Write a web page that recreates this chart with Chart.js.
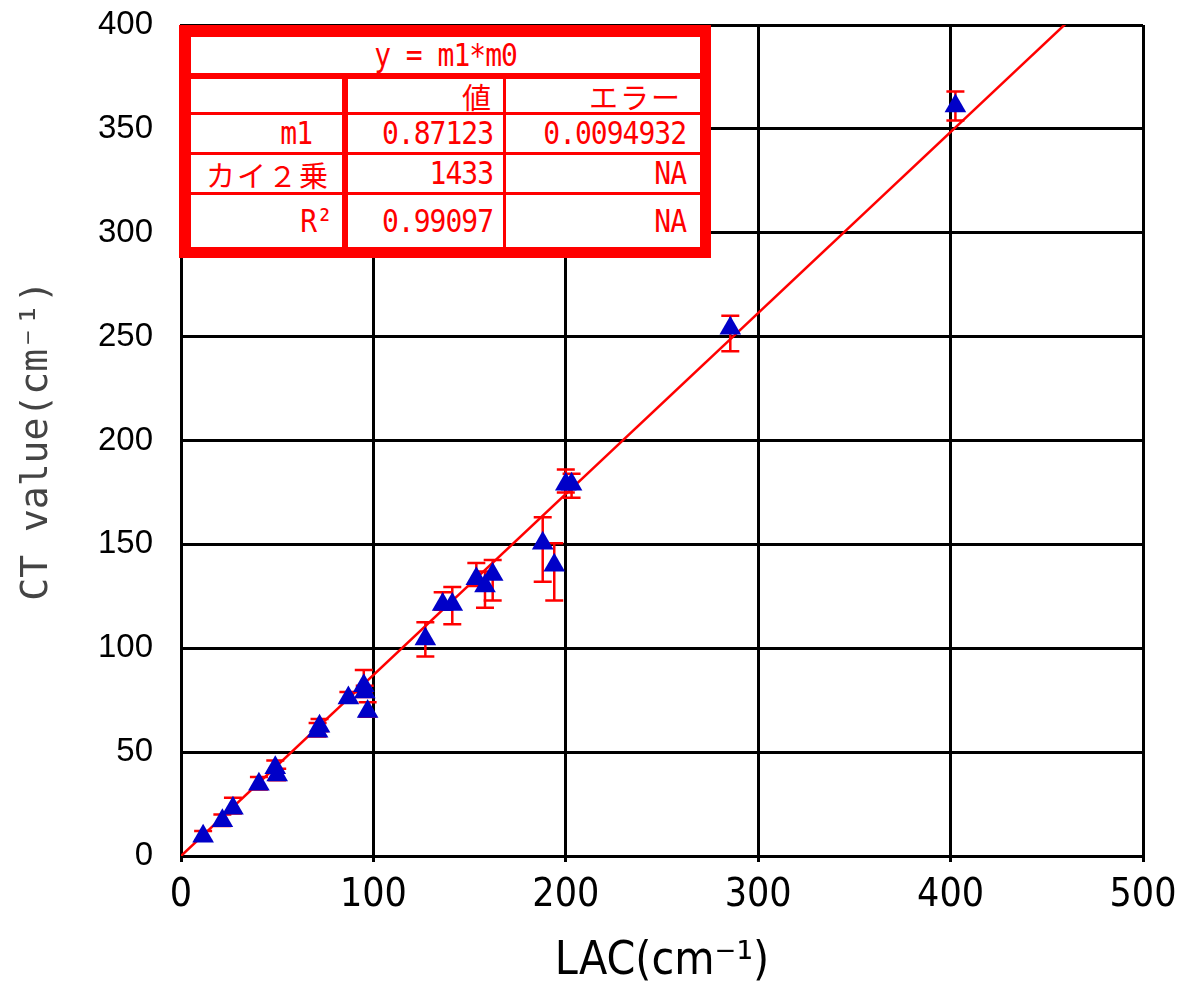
<!DOCTYPE html>
<html>
<head>
<meta charset="utf-8">
<script src="https://cdn.jsdelivr.net/npm/chart.js@4.4.1/dist/chart.umd.min.js"></script>
<style>
    body { margin: 0; background: #fff; }
    #wrap { position: relative; width: 1187px; height: 990px; }
    #fitTable { position: absolute; left: 179px; top: 25px; width: 532px; height: 233px; background: #ff0000; }
    #fitTable div { position: absolute; background: #fff; color: #ff0000; box-sizing: border-box;
        font-family: "DejaVu Sans Mono", "Liberation Mono", monospace; font-size: 28px; letter-spacing: -1px;
        display: flex; align-items: center; justify-content: flex-end; padding-right: 10px; white-space: nowrap; }
    #fitTable div span { display: inline-block; transform: scaleY(1.15); }
    #fitTable .jp { font-family: "Noto Sans CJK JP", sans-serif; font-size: 29px; letter-spacing: 2px; }
    #fitTable .jp span { transform: none; }
</style>
</head>
<body>
<div id="wrap">
    <canvas id="scatterChart"></canvas>
    <div id="fitTable"></div>
</div>
<script>
// measured points: LAC (cm-1) against CT value (cm-1), with error bar ends
const lacValues = [11.5, 21.5, 27, 40.5, 49, 50, 71, 72, 87, 95, 95.5, 97, 127, 136, 141, 153.5, 158, 162, 188, 194, 200, 203, 285.5, 402.5];
const ctValues  = [9.5, 17, 23, 34.5, 42.5, 39, 60, 62.5, 76, 82, 79, 69.5, 104.5, 121, 121, 133.5, 130, 135.5, 150.5, 140, 179, 179, 254, 361];
const errLow    = [7.5, 14.5, 20.5, 32, 40, 36.5, 57.5, 60, 74, 79, 76.5, 67, 96, 118.5, 111.5, 130, 119.5, 123, 132, 123, 175, 172.5, 243, 354];
const errHigh   = [12, 20, 28, 38, 46, 42, 64, 66, 79, 89.5, 82, 74, 112.5, 127, 129.5, 141, 137, 142.5, 163, 150.5, 186, 184, 260, 368];

const xTicks = [0, 100, 200, 300, 400, 500];
const yTicks = [0, 50, 100, 150, 200, 250, 300, 350, 400];

// fit result y = m1*m0
const fitSlope = 0.87123;
const fitRows = [
    ['', '値', 'エラー'],
    ['m1', '0.87123', '0.0094932'],
    ['カイ２乗', '1433', 'NA'],
    ['R²', '0.99097', 'NA']
];

const errorBars = {
    id: 'errorBars',
    beforeDatasetDraw(chart, args) {
        if (args.index !== 0) return;
        const ctx = chart.ctx;
        const xs = chart.scales.x;
        const ys = chart.scales.y;
        ctx.save();
        ctx.strokeStyle = '#ff0000';
        ctx.lineWidth = 2.5;
        lacValues.forEach(function(lac, i){
            let px = xs.getPixelForValue(lac);
            let top = ys.getPixelForValue(errHigh[i]);
            let bot = ys.getPixelForValue(errLow[i]);
            ctx.beginPath();
            ctx.moveTo(px, top); ctx.lineTo(px, bot);
            ctx.moveTo(px - 9, top); ctx.lineTo(px + 9, top);
            ctx.moveTo(px - 9, bot); ctx.lineTo(px + 9, bot);
            ctx.stroke();
        });
        ctx.restore();
    }
};

function buildTable(){
    const table = document.getElementById('fitTable');
    // cell boxes relative to the table: [left, right]
    const cols = [[12, 163], [169, 324], [327, 521]];
    const rowTops = [[54, 87], [90, 127], [130, 167], [170, 222]];

    let title = document.createElement('div');
    title.style.cssText = 'left:12px;top:12px;width:509px;height:36px;justify-content:center;padding:0;';
    title.innerHTML = '<span>y = m1*m0</span>';
    table.appendChild(title);

    const pads = [[10, 10, 18], [30, 10, 14], [12, 10, 14], [10, 10, 14]];
    fitRows.forEach(function(row, r){
        row.forEach(function(text, c){
            let cell = document.createElement('div');
            cell.style.left = cols[c][0] + 'px';
            cell.style.width = (cols[c][1] - cols[c][0]) + 'px';
            cell.style.top = rowTops[r][0] + 'px';
            cell.style.height = (rowTops[r][1] - rowTops[r][0]) + 'px';
            cell.style.paddingRight = pads[r][c] + 'px';
            if (/[^\x00-\x7f²]/.test(text)) cell.classList.add('jp');
            let span = document.createElement('span');
            span.textContent = text;
            cell.appendChild(span);
            table.appendChild(cell);
        });
    });
}

function drawChart(){
    const data = {
        datasets: [{
            label: 'CT value',
            type: 'scatter',
            data: lacValues.map((x, i) => ({x: x, y: ctValues[i]})),
            pointStyle: 'triangle',
            pointRadius: 12.5,
            pointHoverRadius: 12.5,
            backgroundColor: '#0000c8',
            borderColor: '#0000c8',
            borderWidth: 0
        }, {
            label: 'fit',
            type: 'line',
            data: [{x: 0, y: 0}, {x: 500, y: fitSlope * 500}],
            borderColor: '#ff0000',
            borderWidth: 2.5,
            pointRadius: 0,
            fill: false
        }]
    };

    const narrow = '"Liberation Sans Narrow", "DejaVu Sans Condensed", "Liberation Sans", sans-serif';

    const config = {
        type: 'scatter',
        data: data,
        plugins: [errorBars],
        options: {
            responsive: true,
            maintainAspectRatio: false,
            animation: false,
            layout: { padding: { top: 25, right: 44, left: 0, bottom: 0 } },
            plugins: {
                legend: { display: false },
                tooltip: { enabled: false }
            },
            scales: {
                x: {
                    type: 'linear',
                    min: xTicks[0],
                    max: xTicks[xTicks.length - 1],
                    afterBuildTicks: axis => { axis.ticks = xTicks.map(v => ({value: v})); },
                    afterFit: axis => {
                        axis.height = 134;
                        axis.paddingLeft = 0;
                        axis.paddingRight = 0;
                    },
                    grid: { color: '#000', lineWidth: 3, tickLength: 6 },
                    border: { color: '#000', width: 3 },
                    ticks: { color: '#000', padding: 10, maxRotation: 0, font: { family: narrow, size: 39 } },
                    title: {
                        display: true,
                        text: 'LAC(cm⁻¹)',
                        color: '#000',
                        padding: { top: 0, bottom: 0 },
                        font: { family: narrow, size: 46 }
                    }
                },
                y: {
                    type: 'linear',
                    min: yTicks[0],
                    max: yTicks[yTicks.length - 1],
                    afterBuildTicks: axis => { axis.ticks = yTicks.map(v => ({value: v})); },
                    afterFit: axis => {
                        axis.width = 181;
                        axis.paddingTop = 0;
                        axis.paddingBottom = 0;
                    },
                    grid: { color: '#000', lineWidth: 3, drawTicks: false },
                    border: { color: '#000', width: 3 },
                    ticks: { color: '#000', padding: 28, font: { family: '"Liberation Sans", Arial, sans-serif', size: 33 } },
                    title: {
                        display: true,
                        text: 'CT value(cm⁻¹)',
                        color: '#444',
                        padding: { top: 14, bottom: 0 },
                        font: { family: '"DejaVu Sans Mono", monospace', size: 38 }
                    }
                }
            }
        }
    };

    new Chart(document.getElementById('scatterChart'), config);
}

document.addEventListener('DOMContentLoaded', function(){
    buildTable();
    drawChart();
});
</script>
</body>
</html>
